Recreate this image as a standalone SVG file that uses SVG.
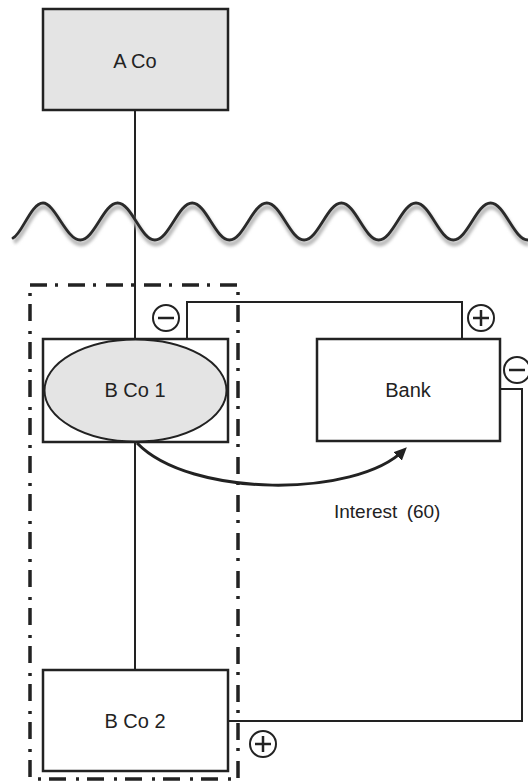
<svg xmlns="http://www.w3.org/2000/svg" width="528" height="783" viewBox="0 0 528 783">
<style>
.box{fill:#fff;stroke:#222;stroke-width:2.5}
.grey{fill:#e4e4e4}
.ln{fill:none;stroke:#222;stroke-width:2}
.lbl{font-family:"Liberation Sans",Arial,sans-serif;font-size:20px;fill:#222;text-anchor:middle}
.sign{fill:#fff;stroke:#222;stroke-width:2}
.bar{stroke:#222;stroke-width:2.5;fill:none}
</style>
<defs>
<filter id="blur" x="-5%" y="-50%" width="110%" height="200%"><feGaussianBlur stdDeviation="1.5"/></filter>
<marker id="arr" markerWidth="13" markerHeight="12" refX="9" refY="6" orient="auto" markerUnits="userSpaceOnUse"><path d="M0,0 L13,6 L0,12 Z" fill="#222"/></marker>
<g id="plus"><circle r="13" class="sign"/><path d="M-8,0 H8 M0,-8 V8" class="bar"/></g>
<g id="minus"><circle r="13" class="sign"/><path d="M-8,0 H8" class="bar"/></g>
</defs>

<g id="boundary">
<rect x="30" y="285" width="208" height="494" fill="none" stroke="#222" stroke-width="3.5" stroke-dasharray="17 8 3 10"/>
</g>

<g id="connectors">
<path class="ln" d="M135,110 V339"/>
<path class="ln" d="M135,442 V670"/>
<path class="ln" d="M187,339 V302 H462 V339"/>
<path class="ln" d="M500,389 H522 V721 H228"/>
<path d="M137,443 C190,498 356,498 404,450" fill="none" stroke="#222" stroke-width="3" marker-end="url(#arr)"/>
</g>

<g id="wave">
<path d="M13,238 C22,234 31,203 43,203 S66.3,240 80.3,240 S103.6,203 117.6,203 S140.9,240 154.9,240 S178.2,203 192.2,203 S215.5,240 229.5,240 S252.8,203 266.8,203 S290.1,240 304.1,240 S327.4,203 341.4,203 S364.7,240 378.7,240 S402,203 416,203 S439.3,240 453.3,240 S476.6,203 490.6,203 S513.9,240 527.9,240" fill="none" stroke="#bbb" stroke-width="5" transform="translate(1,4)" filter="url(#blur)"/>
<path d="M13,238 C22,234 31,203 43,203 S66.3,240 80.3,240 S103.6,203 117.6,203 S140.9,240 154.9,240 S178.2,203 192.2,203 S215.5,240 229.5,240 S252.8,203 266.8,203 S290.1,240 304.1,240 S327.4,203 341.4,203 S364.7,240 378.7,240 S402,203 416,203 S439.3,240 453.3,240 S476.6,203 490.6,203 S513.9,240 527.9,240" fill="none" stroke="#2a2a2a" stroke-width="2.8" stroke-linecap="round"/>
</g>

<g id="aco">
<rect x="43" y="9" width="185" height="101" class="box grey"/>
<text x="135" y="68" class="lbl">A Co</text>
</g>

<g id="bco1">
<rect x="43" y="339" width="185" height="103" class="box"/>
<ellipse cx="135.5" cy="390.5" rx="91" ry="51" class="grey" stroke="#222" stroke-width="2"/>
<text x="135" y="397" class="lbl">B Co 1</text>
</g>

<g id="bank">
<rect x="317" y="339" width="183" height="102" class="box"/>
<text x="408" y="397" class="lbl">Bank</text>
</g>

<g id="bco2">
<rect x="43" y="670" width="185" height="101" class="box"/>
<text x="135" y="728" class="lbl">B Co 2</text>
</g>

<g id="label-interest">
<text x="334" y="518" font-family="'Liberation Sans',Arial,sans-serif" font-size="19" fill="#222" word-spacing="4">Interest (60)</text>
</g>

<g id="signs">
<use href="#minus" x="166" y="318"/>
<use href="#plus" x="481" y="318"/>
<use href="#minus" x="517" y="370"/>
<use href="#plus" x="263" y="744"/>
</g>
</svg>
